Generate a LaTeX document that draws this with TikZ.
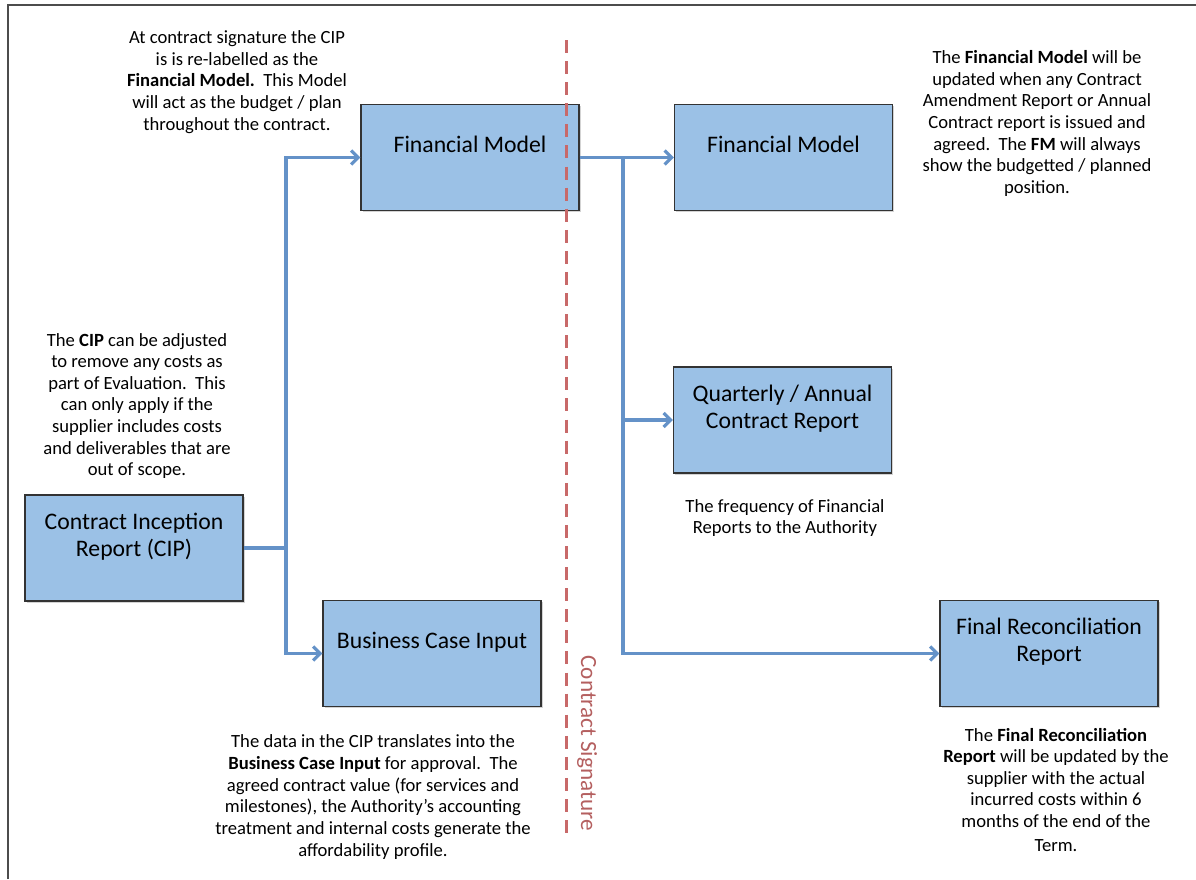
\documentclass[tikz,border=0pt]{standalone}
\usepackage{fontspec}
\setmainfont{Carlito}
\usepackage{tikz}
\usetikzlibrary{arrows.meta,shadows}
\definecolor{boxblue}{RGB}{155,193,230}
\definecolor{linkblue}{RGB}{100,146,200}
\definecolor{sigred}{RGB}{200,105,105}

\begin{document}
\begin{tikzpicture}[
x=0.02cm, y=-0.02cm,
  box/.style = {rectangle, draw=black!80, line width=0.8pt, fill=boxblue,% report boxes
                minimum width=4.36cm, minimum height=2.12cm, align=center,
                inner sep=0pt, font=\fontsize{13.5}{15.4}\selectfont,
                drop shadow={opacity=0.35, shadow xshift=1pt, shadow yshift=-1pt}},
 note/.style = {align=center, inner sep=0pt,% explanation texts
                font=\fontsize{10.6}{12.3}\selectfont},
 link/.style = {draw=linkblue, line width=1.8pt},
  arr/.style = {link, -{Straight Barb[length=4pt,width=8pt]}},
                        ]
\useasboundingbox (0,0) rectangle (1196,879);
\draw[black!70, line width=1.1pt] (8,879) -- (8,5) -- (1196,5);
% reports
\node[box] (cip) at (134,548)   {Contract Inception\\ Report (CIP)\\~};
\node[box] (fm1) at (470,157.5) {Financial Model\\~};
\node[box] (bci) at (432,653.5) {Business Case Input\\~};
\node[box] (fm2) at (783.5,157.5) {Financial Model\\~};
\node[box] (qar) at (782.5,420) {Quarterly / Annual\\ Contract Report\\~};
\node[box] (frr) at (1049,653.5) {Final Reconciliation\\ Report\\~};
% contract signature line (runs over the first model)
\draw[sigred, line width=1.7pt, dash pattern=on 7.4pt off 4.6pt] (566,40) -- (566,835);
\node[rotate=-90, text=sigred!90!black, font=\fontsize{13.2}{15}\selectfont] (sig) at (587,743) {Contract Signature};
% notes
\node[note] (fm1note) at (237,82) {At contract signature the CIP\\ is is re-labelled as the\\
    \textbf{Financial Model.}\ \ This Model\\ will act as the budget / plan\\ throughout the contract.};
\node[note] (fm2note) at (1037,123.5) {The \textbf{Financial Model} will be\\ updated when any Contract\\
    Amendment Report or Annual\\ Contract report is issued and\\ agreed.\ \ The \textbf{FM} will always\\
    show the budgetted / planned\\ position.};
\node[note] (cipnote) at (137,406) {The \textbf{CIP} can be adjusted\\ to remove any costs as\\
    part of Evaluation.\ \ This\\ can only apply if the\\ supplier includes costs\\
    and deliverables that are\\ out of scope.};
\node[note] (qarnote) at (785,518) {The frequency of Financial\\ Reports to the Authority};
\node[note] (bcinote) at (373,797) {The data in the CIP translates into the\\
    \textbf{Business Case Input} for approval.\ \ The\\ agreed contract value (for services and\\
    milestones), the Authority’s accounting\\ treatment and internal costs generate the\\
    affordability profile.};
\node[note] (frrnote) at (1056,790) {The \textbf{Final Reconciliation}\\ \textbf{Report} will be updated by the\\
    supplier with the actual\\ incurred costs within 6\\ months of the end of the\\[1.5pt] Term.};
% connectors
\coordinate (cipj) at (286,548);
\coordinate (fmj)  at (623,157.5);
\draw[link, line width=2.6pt] (cip.east) -- (cipj);
\draw[arr] (cipj) |- (fm1.west);
\draw[arr] (cipj) |- (bci.west);
\draw[arr] (fm1.east) -- (fm2.west);
\draw[arr] (fmj) |- (qar.west);
\draw[arr] (fmj) |- (frr.west);
\end{tikzpicture}
\end{document}
